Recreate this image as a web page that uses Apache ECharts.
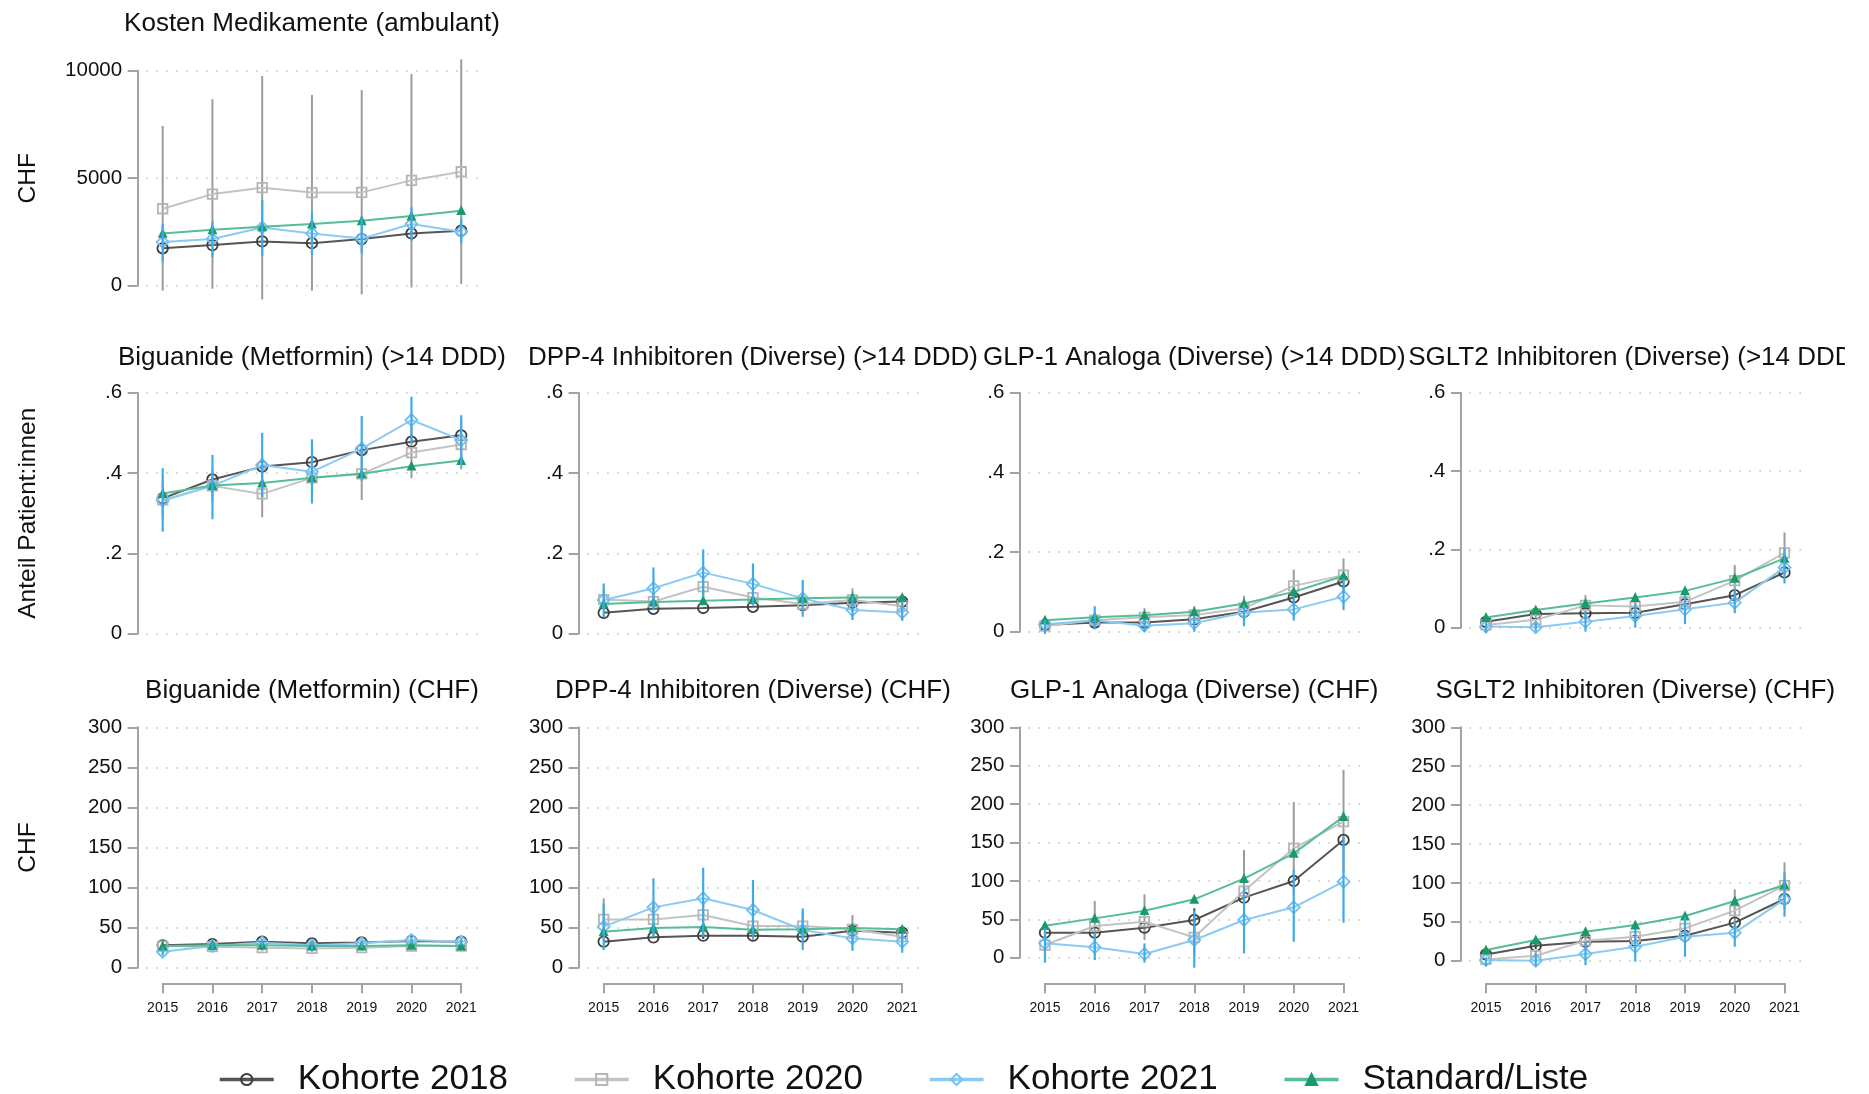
<!DOCTYPE html>
<html>
<head>
<meta charset="utf-8">
<title>Medikamente nach Kohorte</title>
<script src="https://cdn.jsdelivr.net/npm/echarts@6/dist/echarts.min.js"></script>
<style>
  html, body { margin: 0; padding: 0; background: #ffffff; }
  #chart { width: 1845px; height: 1094px; }
</style>
</head>
<body>
<div id="chart"></div>
<script>
// ---- categories and tick labels ----
const years = [2015, 2016, 2017, 2018, 2019, 2020, 2021];
const yearLabels = ['2015', '2016', '2017', '2018', '2019', '2020', '2021'];
const seriesNames = ['Kohorte 2018', 'Kohorte 2020', 'Kohorte 2021', 'Standard/Liste'];
const costTicks = [0, 5000, 10000];
const shareTicks = [0, 0.2, 0.4, 0.6];
const chfTicks = [0, 50, 100, 150, 200, 250, 300];

// ---- Kosten Medikamente (ambulant), CHF ----
const kostenK2018 = [1740, 1890, 2060, 1980, 2170, 2430, 2560];
const kostenK2020 = [3580, 4260, 4560, 4330, 4340, 4900, 5300];
const kostenK2021 = [2030, 2170, 2710, 2430, 2190, 2870, 2510];
const kostenStd   = [2430, 2600, 2740, 2870, 3020, 3240, 3490];
const kostenK2020Lo = [-230, -140, -640, -230, -400, -80, 80];
const kostenK2020Hi = [7430, 8670, 9750, 8870, 9100, 9850, 10530];
const kostenK2021Lo = [1120, 1320, 1380, 1460, 1500, 2090, 1970];
const kostenK2021Hi = [2870, 2980, 3980, 3440, 3180, 3640, 3130];

// ---- Biguanide (Metformin) (>14 DDD), Anteil ----
const bigDddK2018 = [0.337, 0.384, 0.416, 0.427, 0.457, 0.478, 0.494];
const bigDddK2020 = [0.333, 0.368, 0.348, 0.388, 0.398, 0.451, 0.471];
const bigDddK2021 = [0.331, 0.368, 0.420, 0.403, 0.461, 0.532, 0.482];
const bigDddStd   = [0.349, 0.369, 0.375, 0.388, 0.398, 0.417, 0.431];
const bigDddK2020Lo = [0.290, 0.330, 0.290, 0.350, 0.333, 0.387, 0.409];
const bigDddK2020Hi = [0.380, 0.410, 0.406, 0.430, 0.463, 0.515, 0.533];
const bigDddK2021Lo = [0.254, 0.285, 0.340, 0.324, 0.381, 0.474, 0.420];
const bigDddK2021Hi = [0.412, 0.445, 0.500, 0.484, 0.542, 0.590, 0.544];

// ---- DPP-4 Inhibitoren (Diverse) (>14 DDD) ----
const dppDddK2018 = [0.052, 0.062, 0.064, 0.067, 0.071, 0.077, 0.080];
const dppDddK2020 = [0.085, 0.080, 0.117, 0.090, 0.074, 0.084, 0.069];
const dppDddK2021 = [0.084, 0.113, 0.152, 0.124, 0.088, 0.059, 0.053];
const dppDddStd   = [0.074, 0.079, 0.082, 0.085, 0.088, 0.090, 0.090];
const dppDddK2020Lo = [0.060, 0.060, 0.090, 0.070, 0.055, 0.055, 0.050];
const dppDddK2020Hi = [0.110, 0.100, 0.145, 0.110, 0.093, 0.113, 0.088];
const dppDddK2021Lo = [0.041, 0.061, 0.092, 0.071, 0.042, 0.034, 0.032];
const dppDddK2021Hi = [0.125, 0.165, 0.210, 0.175, 0.134, 0.094, 0.082];

// ---- GLP-1 Analoga (Diverse) (>14 DDD) ----
const glpDddK2018 = [0.017, 0.023, 0.023, 0.031, 0.050, 0.086, 0.126];
const glpDddK2020 = [0.014, 0.029, 0.036, 0.042, 0.059, 0.115, 0.142];
const glpDddK2021 = [0.019, 0.029, 0.015, 0.021, 0.048, 0.056, 0.088];
const glpDddStd   = [0.029, 0.036, 0.041, 0.050, 0.071, 0.100, 0.140];
const glpDddK2020Lo = [0.000, 0.010, 0.013, 0.020, 0.028, 0.074, 0.100];
const glpDddK2020Hi = [0.028, 0.048, 0.059, 0.064, 0.090, 0.156, 0.184];
const glpDddK2021Lo = [-0.006, 0.006, 0.000, 0.000, 0.014, 0.028, 0.054];
const glpDddK2021Hi = [0.029, 0.064, 0.030, 0.038, 0.067, 0.088, 0.134];

// ---- SGLT2 Inhibitoren (Diverse) (>14 DDD) ----
const sgltDddK2018 = [0.015, 0.035, 0.037, 0.038, 0.060, 0.083, 0.141];
const sgltDddK2020 = [0.007, 0.020, 0.057, 0.054, 0.066, 0.120, 0.191];
const sgltDddK2021 = [0.003, 0.001, 0.015, 0.030, 0.047, 0.064, 0.154];
const sgltDddStd   = [0.026, 0.045, 0.062, 0.077, 0.094, 0.126, 0.177];
const sgltDddK2020Lo = [0.000, 0.005, 0.031, 0.030, 0.047, 0.080, 0.139];
const sgltDddK2020Hi = [0.014, 0.035, 0.083, 0.078, 0.085, 0.160, 0.243];
const sgltDddK2021Lo = [-0.014, -0.010, -0.010, 0.000, 0.009, 0.037, 0.113];
const sgltDddK2021Hi = [0.011, 0.013, 0.041, 0.062, 0.083, 0.100, 0.203];

// ---- Biguanide (Metformin) (CHF) ----
const bigChfK2018 = [27.9, 29.5, 32.5, 30.4, 31.6, 33.3, 32.5];
const bigChfK2020 = [27.0, 26.2, 25.0, 24.1, 25.0, 27.0, 27.0];
const bigChfK2021 = [20.0, 27.0, 31.2, 27.9, 30.4, 34.5, 32.5];
const bigChfStd   = [27.0, 27.9, 27.9, 27.0, 27.0, 27.9, 27.0];
const bigChfK2020Lo = [22, 22, 21, 20, 21, 23, 23];
const bigChfK2020Hi = [32, 30, 29, 28, 29, 31, 31];
const bigChfK2021Lo = [15, 23, 26, 23, 25, 29, 28];
const bigChfK2021Hi = [25, 31, 36, 33, 35, 39, 37];

// ---- DPP-4 Inhibitoren (Diverse) (CHF) ----
const dppChfK2018 = [32.5, 37.9, 40.0, 40.0, 38.7, 46.2, 43.7];
const dppChfK2020 = [60.3, 60.3, 65.8, 52.0, 52.0, 47.9, 38.7];
const dppChfK2021 = [51.2, 75.3, 86.6, 72.0, 47.0, 36.6, 32.5];
const dppChfStd   = [45.0, 49.5, 50.8, 47.4, 47.9, 49.5, 47.9];
const dppChfK2018Lo = [null, null, 36, null, null, null, null];
const dppChfK2018Hi = [null, null, 44, null, null, null, null];
const dppChfK2020Lo = [34, 40, 45, 35, 35, 30, 25];
const dppChfK2020Hi = [86.6, 80, 86, 69, 69, 65.8, 52];
const dppChfK2021Lo = [22, 38.7, 38.7, 38.7, 22, 21, 18.7];
const dppChfK2021Hi = [80.3, 111.5, 124.8, 109.4, 74, 46, 42];

// ---- GLP-1 Analoga (Diverse) (CHF) ----
const glpChfK2018 = [32.6, 32.6, 39.1, 49.1, 78.2, 99.9, 153.3];
const glpChfK2020 = [16.5, 41.2, 46.9, 26.5, 86.8, 142.4, 177.2];
const glpChfK2021 = [18.7, 13.5, 4.8, 23.0, 49.1, 65.6, 99.0];
const glpChfStd   = [41.7, 51.2, 61.2, 76.0, 102.9, 135.9, 183.7];
const glpChfK2018Lo = [null, null, null, 34, null, null, null];
const glpChfK2018Hi = [null, null, null, 64.3, null, null, null];
const glpChfK2020Lo = [0, 8.6, 23, 5, 33, 82, 110];
const glpChfK2020Hi = [33, 73.8, 82.5, 48, 140.3, 202.8, 244.5];
const glpChfK2021Lo = [-6.5, -3, -6.5, -13, 5.6, 20.8, 45.6];
const glpChfK2021Hi = [38.2, 32.6, 18.7, 62, 92.5, 114.2, 157.6];

// ---- SGLT2 Inhibitoren (Diverse) (CHF) ----
const sgltChfK2018 = [8.1, 19.3, 24.4, 25.3, 32.1, 48.9, 79.3];
const sgltChfK2020 = [1.7, 6.4, 25.7, 30.9, 41.6, 64.3, 96.4];
const sgltChfK2021 = [0.9, 0.0, 8.6, 18.0, 30.9, 36.0, 78.9];
const sgltChfStd   = [13.7, 26.6, 37.3, 45.9, 57.4, 76.7, 97.3];
const sgltChfK2018Lo = [null, 15, null, null, null, null, null];
const sgltChfK2018Hi = [null, 24, null, null, null, null, null];
const sgltChfK2020Lo = [0, 0, 15, 18, 27, 37, 66];
const sgltChfK2020Hi = [4, 13, 36, 44, 56, 91.7, 126.4];
const sgltChfK2021Lo = [-6.9, -6.9, -5.6, -1.3, 5.1, 18, 56.6];
const sgltChfK2021Hi = [4.3, 9.4, 24.4, 39.4, 56.6, 50.1, 113.2];

// ---- panel contents (data only) ----
const panels = [
  { title: 'Kosten Medikamente (ambulant)', ticks: costTicks, axisName: 'CHF',
    lines: [kostenK2018, kostenK2020, kostenK2021, kostenStd],
    ci2020: [kostenK2020Lo, kostenK2020Hi], ci2021: [kostenK2021Lo, kostenK2021Hi] },
  { title: 'Biguanide (Metformin) (>14 DDD)', ticks: shareTicks, axisName: 'Anteil Patient:innen',
    lines: [bigDddK2018, bigDddK2020, bigDddK2021, bigDddStd],
    ci2020: [bigDddK2020Lo, bigDddK2020Hi], ci2021: [bigDddK2021Lo, bigDddK2021Hi] },
  { title: 'DPP-4 Inhibitoren (Diverse) (>14 DDD)', ticks: shareTicks,
    lines: [dppDddK2018, dppDddK2020, dppDddK2021, dppDddStd],
    ci2020: [dppDddK2020Lo, dppDddK2020Hi], ci2021: [dppDddK2021Lo, dppDddK2021Hi] },
  { title: 'GLP-1 Analoga (Diverse) (>14 DDD)', ticks: shareTicks,
    lines: [glpDddK2018, glpDddK2020, glpDddK2021, glpDddStd],
    ci2020: [glpDddK2020Lo, glpDddK2020Hi], ci2021: [glpDddK2021Lo, glpDddK2021Hi] },
  { title: 'SGLT2 Inhibitoren (Diverse) (>14 DDD)', ticks: shareTicks,
    lines: [sgltDddK2018, sgltDddK2020, sgltDddK2021, sgltDddStd],
    ci2020: [sgltDddK2020Lo, sgltDddK2020Hi], ci2021: [sgltDddK2021Lo, sgltDddK2021Hi] },
  { title: 'Biguanide (Metformin) (CHF)', ticks: chfTicks, axisName: 'CHF', years: true,
    lines: [bigChfK2018, bigChfK2020, bigChfK2021, bigChfStd],
    ci2020: [bigChfK2020Lo, bigChfK2020Hi], ci2021: [bigChfK2021Lo, bigChfK2021Hi] },
  { title: 'DPP-4 Inhibitoren (Diverse) (CHF)', ticks: chfTicks, years: true,
    lines: [dppChfK2018, dppChfK2020, dppChfK2021, dppChfStd],
    ci2018: [dppChfK2018Lo, dppChfK2018Hi],
    ci2020: [dppChfK2020Lo, dppChfK2020Hi], ci2021: [dppChfK2021Lo, dppChfK2021Hi] },
  { title: 'GLP-1 Analoga (Diverse) (CHF)', ticks: chfTicks, years: true,
    lines: [glpChfK2018, glpChfK2020, glpChfK2021, glpChfStd],
    ci2018: [glpChfK2018Lo, glpChfK2018Hi],
    ci2020: [glpChfK2020Lo, glpChfK2020Hi], ci2021: [glpChfK2021Lo, glpChfK2021Hi] },
  { title: 'SGLT2 Inhibitoren (Diverse) (CHF)', ticks: chfTicks, years: true,
    lines: [sgltChfK2018, sgltChfK2020, sgltChfK2021, sgltChfStd],
    ci2018: [sgltChfK2018Lo, sgltChfK2018Hi],
    ci2020: [sgltChfK2020Lo, sgltChfK2020Hi], ci2021: [sgltChfK2021Lo, sgltChfK2021Hi] }
];

// ---- layout of the plot regions (pixels) ----
const GRID_W = 331.7;
const PAD_YEARS = 1 / 3;                       // blank space either side of the first/last year
const STEP = GRID_W / (years.length - 1 + 2 * PAD_YEARS);
const panelBoxes = [
  { left: 146.1,  top: 70.7,  height: 215.0 },
  { left: 146.1,  top: 392.7, height: 241.0 },
  { left: 587.1,  top: 392.7, height: 241.0 },
  { left: 1028.4, top: 392.7, height: 239.0 },
  { left: 1469.4, top: 392.7, height: 235.0 },
  { left: 146.1,  top: 727.3, height: 240.4 },
  { left: 587.1,  top: 727.3, height: 240.4 },
  { left: 1028.4, top: 727.3, height: 230.4 },
  { left: 1469.4, top: 727.3, height: 233.4 }
];
const titleTops = [10.5, 345, 345, 345, 345, 678, 678, 678, 678];
const YEAR_AXIS_Y = 983.3;

// ---- styles ----
const FONT = '"Liberation Sans", Arial, Helvetica, sans-serif';
const AXIS_GREY = '#a3a3a3';
const lineStyles = [
  { line: '#555555', border: '#3e3e3e', symbol: 'circle',   size: 10.5, fill: 'rgba(255,255,255,0)' },
  { line: '#c3c3c3', border: '#b5b5b5', symbol: 'rect',     size: 9.5,  fill: 'rgba(255,255,255,0)' },
  { line: '#8ccbf1', border: '#74c0ee', symbol: 'diamond',  size: 12,   fill: 'rgba(255,255,255,0)' },
  { line: '#55bd97', border: '#1b9b6c', symbol: 'triangle', size: 7,    fill: '#1b9b6c' }
];
const CI_COLORS = { k2018: '#3a3a3a', k2020: '#9c9c9c', k2021: '#40aae6' };

function tickFormatter(ticks) {
  if (ticks === shareTicks) {
    return v => (v === 0 ? '0' : v.toFixed(1).replace(/^0/, ''));
  }
  return v => String(v);
}

function ciRenderer(color, width) {
  return function (params, api) {
    const lo = api.coord([api.value(0), api.value(1)]);
    const hi = api.coord([api.value(0), api.value(2)]);
    return {
      type: 'line',
      shape: { x1: lo[0], y1: lo[1], x2: hi[0], y2: hi[1] },
      style: { stroke: color, lineWidth: width }
    };
  };
}

function ciData(pair) {
  const out = [];
  years.forEach((y, k) => {
    if (pair[0][k] != null && pair[1][k] != null) out.push([y, pair[0][k], pair[1][k]]);
  });
  return out;
}

const grid = [], xAxis = [], yAxis = [], series = [], title = [];

panels.forEach((p, i) => {
  const box = panelBoxes[i];
  const gi = grid.length;
  grid.push({ left: box.left, top: box.top, width: GRID_W, height: box.height, containLabel: false });

  xAxis.push({
    type: 'value', gridIndex: gi, show: false,
    min: years[0] - PAD_YEARS, max: years[years.length - 1] + PAD_YEARS
  });

  const t = p.ticks;
  yAxis.push({
    type: 'value', gridIndex: gi,
    min: t[0], max: t[t.length - 1], interval: t[1] - t[0],
    offset: 8.5,
    name: p.axisName || '',
    nameLocation: 'middle', nameGap: 97, nameRotate: 90,
    nameTextStyle: { fontFamily: FONT, fontSize: 24.5, color: '#111' },
    axisLine: { show: true, lineStyle: { color: AXIS_GREY, width: 2 } },
    axisTick: { show: true, length: 10, lineStyle: { color: AXIS_GREY, width: 2 } },
    axisLabel: { fontFamily: FONT, fontSize: 20.5, color: '#111', margin: 15.5, formatter: tickFormatter(t) },
    splitLine: { show: true, lineStyle: { color: '#c4c4c4', width: 1.6, type: [1.6, 8.4] } }
  });

  title.push({
    text: p.title, left: box.left + GRID_W / 2, top: titleTops[i], textAlign: 'center', padding: 0,
    textStyle: { fontFamily: FONT, fontSize: 26, fontWeight: 'normal', color: '#111' }
  });

  // confidence bars of Kohorte 2020 sit beneath the lines
  series.push({
    type: 'custom', name: 'KI Kohorte 2020', xAxisIndex: gi, yAxisIndex: gi, z: 1, clip: false,
    renderItem: ciRenderer(CI_COLORS.k2020, 2), encode: { x: 0, y: [1, 2] },
    data: ciData(p.ci2020), silent: true
  });
  if (p.ci2018) {
    series.push({
      type: 'custom', name: 'KI Kohorte 2018', xAxisIndex: gi, yAxisIndex: gi, z: 1, clip: false,
      renderItem: ciRenderer(CI_COLORS.k2018, 2), encode: { x: 0, y: [1, 2] },
      data: ciData(p.ci2018), silent: true
    });
  }

  p.lines.forEach((vals, s) => {
    const st = lineStyles[s];
    series.push({
      type: 'line', name: seriesNames[s], xAxisIndex: gi, yAxisIndex: gi, z: 2 + s * 0.1,
      clip: false, symbol: st.symbol, symbolSize: st.size, showSymbol: true,
      lineStyle: { color: st.line, width: 2 },
      itemStyle: { color: st.fill, borderColor: st.border, borderWidth: 1.8 },
      emphasis: { disabled: true },
      data: years.map((y, k) => [y, vals[k]])
    });
  });

  // Kohorte 2021 confidence bars are drawn over the lines
  series.push({
    type: 'custom', name: 'KI Kohorte 2021', xAxisIndex: gi, yAxisIndex: gi, z: 3, clip: false,
    renderItem: ciRenderer(CI_COLORS.k2021, 2.2), encode: { x: 0, y: [1, 2] },
    data: ciData(p.ci2021), silent: true
  });

  // year axis, drawn below the bottom row only
  if (p.years) {
    const ai = grid.length;
    grid.push({
      left: box.left + PAD_YEARS * STEP, width: STEP * (years.length - 1),
      top: YEAR_AXIS_Y - 10, height: 10
    });
    xAxis.push({
      type: 'category', gridIndex: ai, data: yearLabels, boundaryGap: false, position: 'bottom',
      axisLine: { show: true, lineStyle: { color: AXIS_GREY, width: 2 } },
      axisTick: { show: true, length: 10, lineStyle: { color: AXIS_GREY, width: 2 } },
      axisLabel: { fontFamily: FONT, fontSize: 14, color: '#111', margin: 18 },
      splitLine: { show: false }
    });
    yAxis.push({ type: 'value', gridIndex: ai, show: false });
  }
});

const chart = echarts.init(document.getElementById('chart'), null, { renderer: 'canvas' });
chart.setOption({
  backgroundColor: '#ffffff',
  animation: false,
  title: title,
  grid: grid,
  xAxis: xAxis,
  yAxis: yAxis,
  series: series,
  legend: {
    data: seriesNames,
    left: 213, top: 1057,
    itemWidth: 54, itemHeight: 14, itemGap: 65,
    textStyle: { fontFamily: FONT, fontSize: 35, color: '#111', padding: [0, 0, 0, 19] },
    lineStyle: { width: 3.5 }
  },
  tooltip: { show: false }
});
</script>
</body>
</html>
